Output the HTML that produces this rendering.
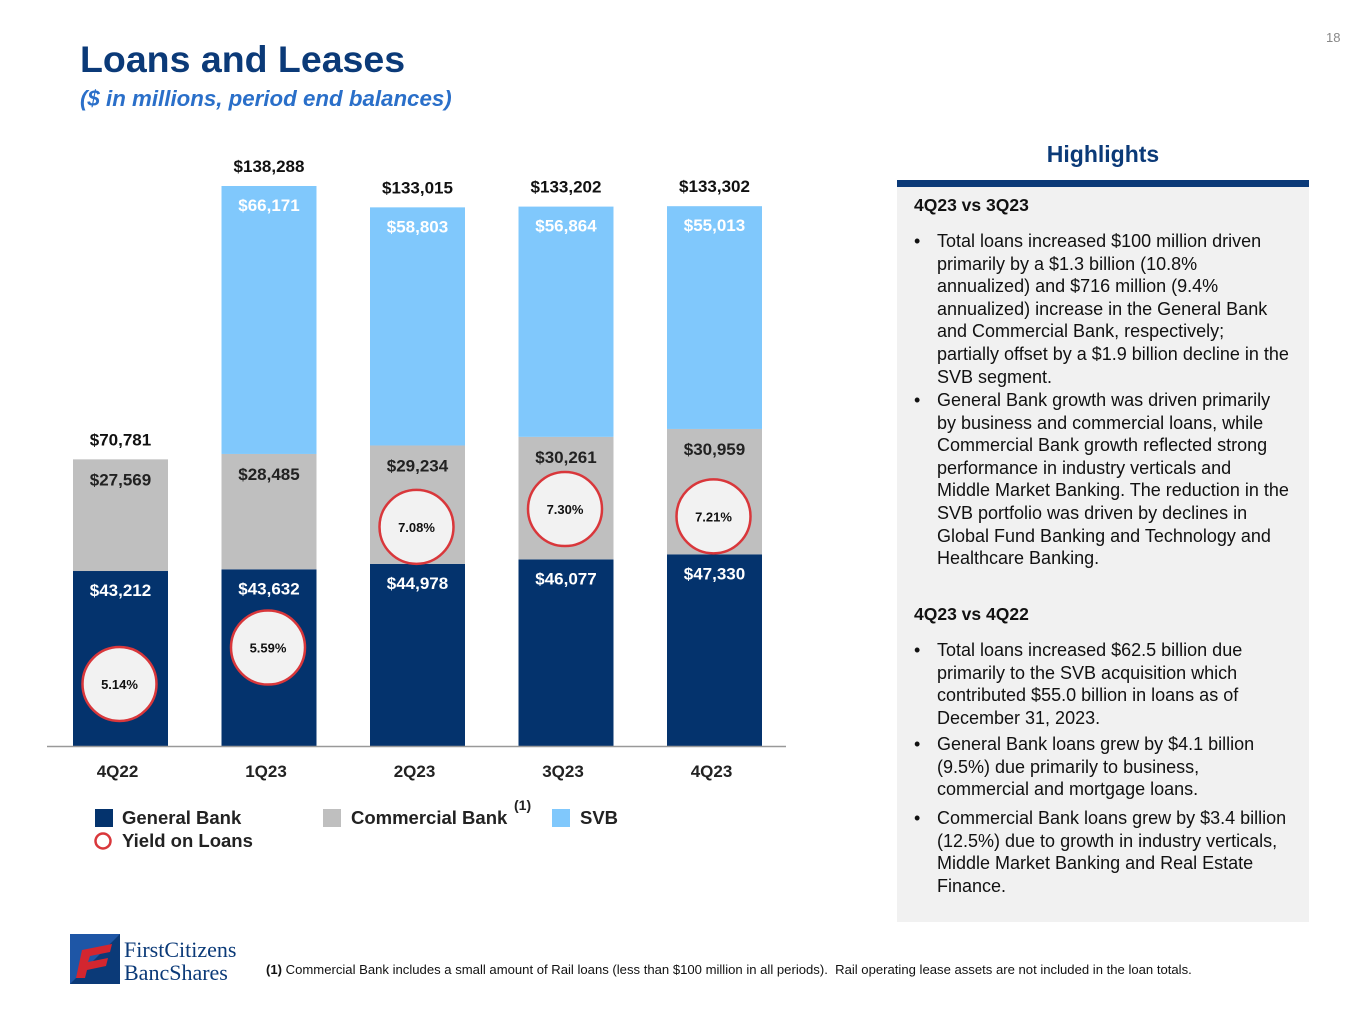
<!DOCTYPE html>
<html><head><meta charset="utf-8">
<style>
body{margin:0;width:1365px;height:1024px;background:#fff;font-family:"Liberation Sans",Arial,sans-serif;position:relative;overflow:hidden}
.abs{position:absolute}
#title{left:80px;top:38px;font-size:37.5px;font-weight:bold;color:#0b3a78}
#sub{left:80px;top:86px;font-size:22.3px;font-weight:bold;font-style:italic;color:#2a6fc9}
#pg{left:1326px;top:30px;font-size:13px;color:#888}
#hl-title{left:897px;width:412px;top:141px;text-align:center;font-size:23px;font-weight:bold;color:#0b3a78}
#hl-bar{left:897px;top:180px;width:412px;height:7px;background:#0b3a78}
#hl-box{left:897px;top:187px;width:412px;height:735px;background:#f1f1f1}
.hh{position:absolute;left:914px;font-size:17.5px;font-weight:bold;color:#111}
.bl{position:absolute;left:914px;width:380px;font-size:18px;line-height:22.6px;color:#111}
.bl span.d{position:absolute;left:0}
.bl div{margin-left:23px;width:352px}
#foot{left:266px;top:962px;font-size:13.1px;color:#111}
</style></head><body>
<div id="title" class="abs">Loans and Leases</div>
<div id="sub" class="abs">($ in millions, period end balances)</div>
<div id="pg" class="abs">18</div>

<svg id="chart" class="abs" style="left:0;top:0" width="880" height="900"></svg>

<div id="hl-title" class="abs">Highlights</div>
<div id="hl-bar" class="abs"></div>
<div id="hl-box" class="abs"></div>
<div class="hh" style="top:195px">4Q23 vs 3Q23</div>
<div class="bl" style="top:230px"><span class="d">•</span><div>Total loans increased $100 million driven primarily by a $1.3 billion (10.8% annualized) and $716 million (9.4% annualized) increase in the General Bank and Commercial Bank, respectively; partially offset by a $1.9 billion decline in the SVB segment.</div></div>
<div class="bl" style="top:389px"><span class="d">•</span><div>General Bank growth was driven primarily by business and commercial loans, while Commercial Bank growth reflected strong performance in industry verticals and Middle Market Banking. The reduction in the SVB portfolio was driven by declines in Global Fund Banking and Technology and Healthcare Banking.</div></div>
<div class="hh" style="top:604px">4Q23 vs 4Q22</div>
<div class="bl" style="top:639px"><span class="d">•</span><div>Total loans increased $62.5 billion due primarily to the SVB acquisition which contributed $55.0 billion in loans as of December 31, 2023.</div></div>
<div class="bl" style="top:733px"><span class="d">•</span><div>General Bank loans grew by $4.1 billion (9.5%) due primarily to business, commercial and mortgage loans.</div></div>
<div class="bl" style="top:807px"><span class="d">•</span><div>Commercial Bank loans grew by $3.4 billion (12.5%) due to growth in industry verticals, Middle Market Banking and Real Estate Finance.</div></div>

<svg class="abs" style="left:68px;top:930px" width="186" height="58">
<rect x="2" y="4" width="50" height="50" fill="#0b3a78"/>
<polygon points="2,4 52,4 2,54" fill="#1e56a6"/>
<path d="M8 48 L14 20 L44 14 L42 22 L22 26 L20 32 L40 28 L38 36 L19 40 L17 48 Z" fill="#d3262f"/>
<text x="56" y="27" font-family="Liberation Serif,serif" font-size="22" fill="#0b3a78">FirstCitizens</text>
<text x="56" y="50" font-family="Liberation Serif,serif" font-size="22" fill="#0b3a78">BancShares</text>
</svg>
<div id="foot" class="abs"><b>(1)</b> Commercial Bank includes a small amount of Rail loans (less than $100 million in all periods).&nbsp; Rail operating lease assets are not included in the loan totals.</div>

<script>
const categories=["4Q22","1Q23","2Q23","3Q23","4Q23"];
const generalBank=[43212,43632,44978,46077,47330];
const commercialBank=[27569,28485,29234,30261,30959];
const svb=[0,66171,58803,56864,55013];
const totals=[70781,138288,133015,133202,133302];
const yields=[5.14,5.59,7.08,7.30,7.21];

const NS="http://www.w3.org/2000/svg";
const svg=document.getElementById('chart');
const base=746, pxPer=560/138288;
const yv=v=>base-v*pxPer;
const xb=i=>73+i*148.5;
const bw=95;
const yy=p=>684-(p-5.14)*81;
function mk(tag,attrs,txt){const e=document.createElementNS(NS,tag);for(const k in attrs)e.setAttribute(k,attrs[k]);if(txt!==undefined)e.textContent=txt;svg.appendChild(e);return e;}
const fmt=v=>'$'+v.toLocaleString('en-US');
categories.forEach((c,i)=>{
  const x=xb(i), cx=x+bw/2;
  let g=mk('rect',{x:x,y:yv(generalBank[i]),width:bw,height:generalBank[i]*pxPer,fill:'#04336d'});
  
  
  const cTop=yv(generalBank[i]+commercialBank[i]);
  let cb=mk('rect',{x:x,y:cTop,width:bw,height:commercialBank[i]*pxPer,fill:'#bfbfbf'});
  
  
  let t=mk('text',{x:cx,y:yv(generalBank[i])+25,'text-anchor':'middle','font-size':17,'font-weight':'bold',fill:'#fff'},fmt(generalBank[i]));
  
  
  t=mk('text',{x:cx,y:cTop+26,'text-anchor':'middle','font-size':17,'font-weight':'bold',fill:'#222'},fmt(commercialBank[i]));
  
  
  if(svb[i]>0){
    const sTop=yv(totals[i]);
    let s=mk('rect',{x:x,y:sTop,width:bw,height:cTop-sTop,fill:'#80c8fc'});
    
    
    t=mk('text',{x:cx,y:sTop+25,'text-anchor':'middle','font-size':17,'font-weight':'bold',fill:'#fff'},fmt(svb[i]));
    
    
  }
  t=mk('text',{x:cx,y:yv(totals[i])-14,'text-anchor':'middle','font-size':17,'font-weight':'bold',fill:'#111'},fmt(totals[i]));
  
  
  let ci=mk('circle',{cx:cx-1,cy:yy(yields[i]),r:37,fill:'#f2f2f2',stroke:'#d9373b','stroke-width':2.5});
  
  
  t=mk('text',{x:cx-1,y:yy(yields[i])+5,'text-anchor':'middle','font-size':13,'font-weight':'bold',fill:'#111'},yields[i].toFixed(2)+'%');
  
  
  t=mk('text',{x:cx-3,y:777,'text-anchor':'middle','font-size':17,'font-weight':'bold',fill:'#222'},c);
  
  
});
let ax=mk('line',{x1:47,x2:786,y1:746.5,y2:746.5,stroke:'#999','stroke-width':1.5});


// legend
let e;
e=mk('rect',{x:95,y:809,width:18,height:18,fill:'#04336d'});


e=mk('text',{x:122,y:824,'font-size':18.5,'font-weight':'bold',fill:'#222'},'General Bank');


e=mk('rect',{x:323,y:809,width:18,height:18,fill:'#bfbfbf'});


e=mk('text',{x:351,y:824,'font-size':18.5,'font-weight':'bold',fill:'#222'},'Commercial Bank');


e=mk('text',{x:514,y:810,'font-size':14,'font-weight':'bold',fill:'#222'},'(1)');


e=mk('rect',{x:552,y:809,width:18,height:18,fill:'#80c8fc'});


e=mk('text',{x:580,y:824,'font-size':18.5,'font-weight':'bold',fill:'#222'},'SVB');


e=mk('circle',{cx:103,cy:841,r:7.5,fill:'#fff',stroke:'#d9373b','stroke-width':2.5});


e=mk('text',{x:122,y:847,'font-size':18.5,'font-weight':'bold',fill:'#222'},'Yield on Loans');


</script>
</body></html>
